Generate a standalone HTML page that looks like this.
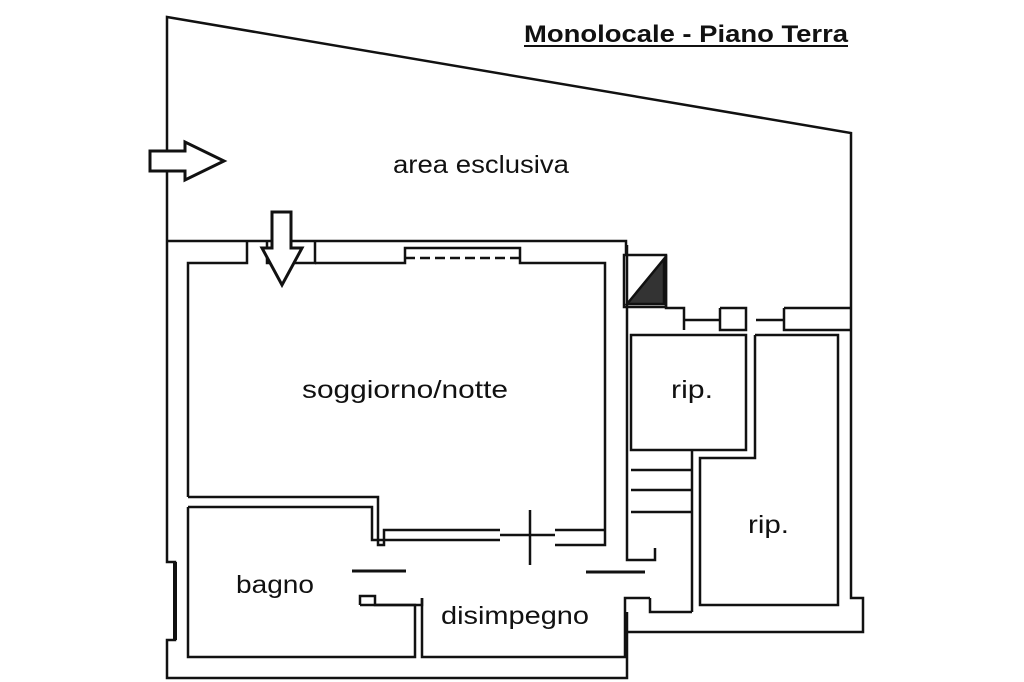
<!DOCTYPE html>
<html><head><meta charset="utf-8"><style>
html,body{margin:0;padding:0;background:#fff;}
svg{display:block}
text{font-family:"Liberation Sans",sans-serif;fill:#111}
</style></head><body>
<svg width="1024" height="682" viewBox="0 0 1024 682" xmlns="http://www.w3.org/2000/svg">
<g fill="none" stroke="#111" stroke-width="2.5" stroke-linejoin="miter">
<!-- outer boundary -->
<polyline points="167,241 167,17 851,133 851,598 863,598 863,632 627,632 627,678 167,678 167,640 175,640 175,562 167,562 167,241"/>
<line x1="175" y1="562" x2="175" y2="640" stroke-width="4"/>
<!-- top wall -->
<polyline points="167,241 626,241 626,255"/>
<polyline points="188,497 188,263 247,263 247,241"/>
<polyline points="267,241 267,263 315,263 315,241"/>
<polyline points="315,263 405,263 405,248 520,248 520,263 605,263 605,545 555,545"/>
<line x1="405" y1="258" x2="520" y2="258" stroke-dasharray="10,5"/>
<!-- soggiorno / bagno wall -->
<polyline points="188,497 378,497 378,545 384,545 384,530 500,530"/>
<polyline points="188,507 372,507 372,540 500,540"/>
<line x1="555" y1="530" x2="605" y2="530"/>
<line x1="530" y1="510" x2="530" y2="565"/>
<line x1="500" y1="535" x2="555" y2="535"/>
<!-- bagno inner -->
<polyline points="188,507 188,657 415,657 415,605 375,605 375,596 360,596 360,605"/>
<polyline points="422,598 422,657 625,657 625,598 650,598"/>
<polyline points="360,605 422,605 422,598"/>
<!-- door swing lines -->
<line x1="352" y1="571" x2="406" y2="571" stroke-width="3"/>
<line x1="586" y1="572" x2="645" y2="572" stroke-width="3"/>
<!-- right of soggiorno wall -->
<polyline points="627,263 627,560 655,560 655,548"/>
<polyline points="627,263 627,245"/>
<!-- shaft -->
<rect x="624" y="255" width="42" height="52"/>
<polygon points="627,304 664,259 664,304" fill="#333"/>
<polyline points="666,255 666,308 684,308 684,330"/>
<polyline points="720,308 720,330 746,330 746,308 720,308"/>
<polyline points="784,308 784,330 851,330"/>
<polyline points="784,308 851,308"/>
<line x1="684" y1="320" x2="720" y2="320"/>
<line x1="756" y1="320" x2="784" y2="320"/>
<!-- rip 1 -->
<rect x="631" y="335" width="115" height="115"/>
<!-- rip 2 -->
<polyline points="755,335 838,335 838,605 700,605 700,458 755,458 755,335"/>
<!-- stairs -->
<line x1="631" y1="470" x2="692" y2="470"/>
<line x1="631" y1="490" x2="692" y2="490"/>
<line x1="631" y1="512" x2="692" y2="512"/>
<line x1="692" y1="450" x2="692" y2="612"/>
<polyline points="650,598 650,612 692,612"/>
<line x1="627" y1="632" x2="627" y2="612"/>
<!-- arrows -->
<polygon points="150,151 185,151 185,142 224,161 185,180 185,171 150,171 150,151" stroke-width="3" fill="#fff"/>
<polygon points="272,212 291,212 291,248 302,248 282,285 262,248 272,248 272,212" stroke-width="3" fill="#fff"/>
</g>
<text x="524" y="42" font-size="24" font-weight="bold" textLength="324" lengthAdjust="spacingAndGlyphs">Monolocale - Piano Terra</text>
<line x1="524" y1="46" x2="848" y2="46" stroke="#111" stroke-width="2"/>
<text x="393" y="173" font-size="25" textLength="176" lengthAdjust="spacingAndGlyphs">area esclusiva</text>
<text x="302" y="398" font-size="25" textLength="206" lengthAdjust="spacingAndGlyphs">soggiorno/notte</text>
<text x="671" y="398" font-size="25" textLength="42" lengthAdjust="spacingAndGlyphs">rip.</text>
<text x="748" y="533" font-size="25" textLength="41" lengthAdjust="spacingAndGlyphs">rip.</text>
<text x="236" y="593" font-size="25" textLength="78" lengthAdjust="spacingAndGlyphs">bagno</text>
<text x="441" y="624" font-size="25" textLength="148" lengthAdjust="spacingAndGlyphs">disimpegno</text>
</svg>
</body></html>
